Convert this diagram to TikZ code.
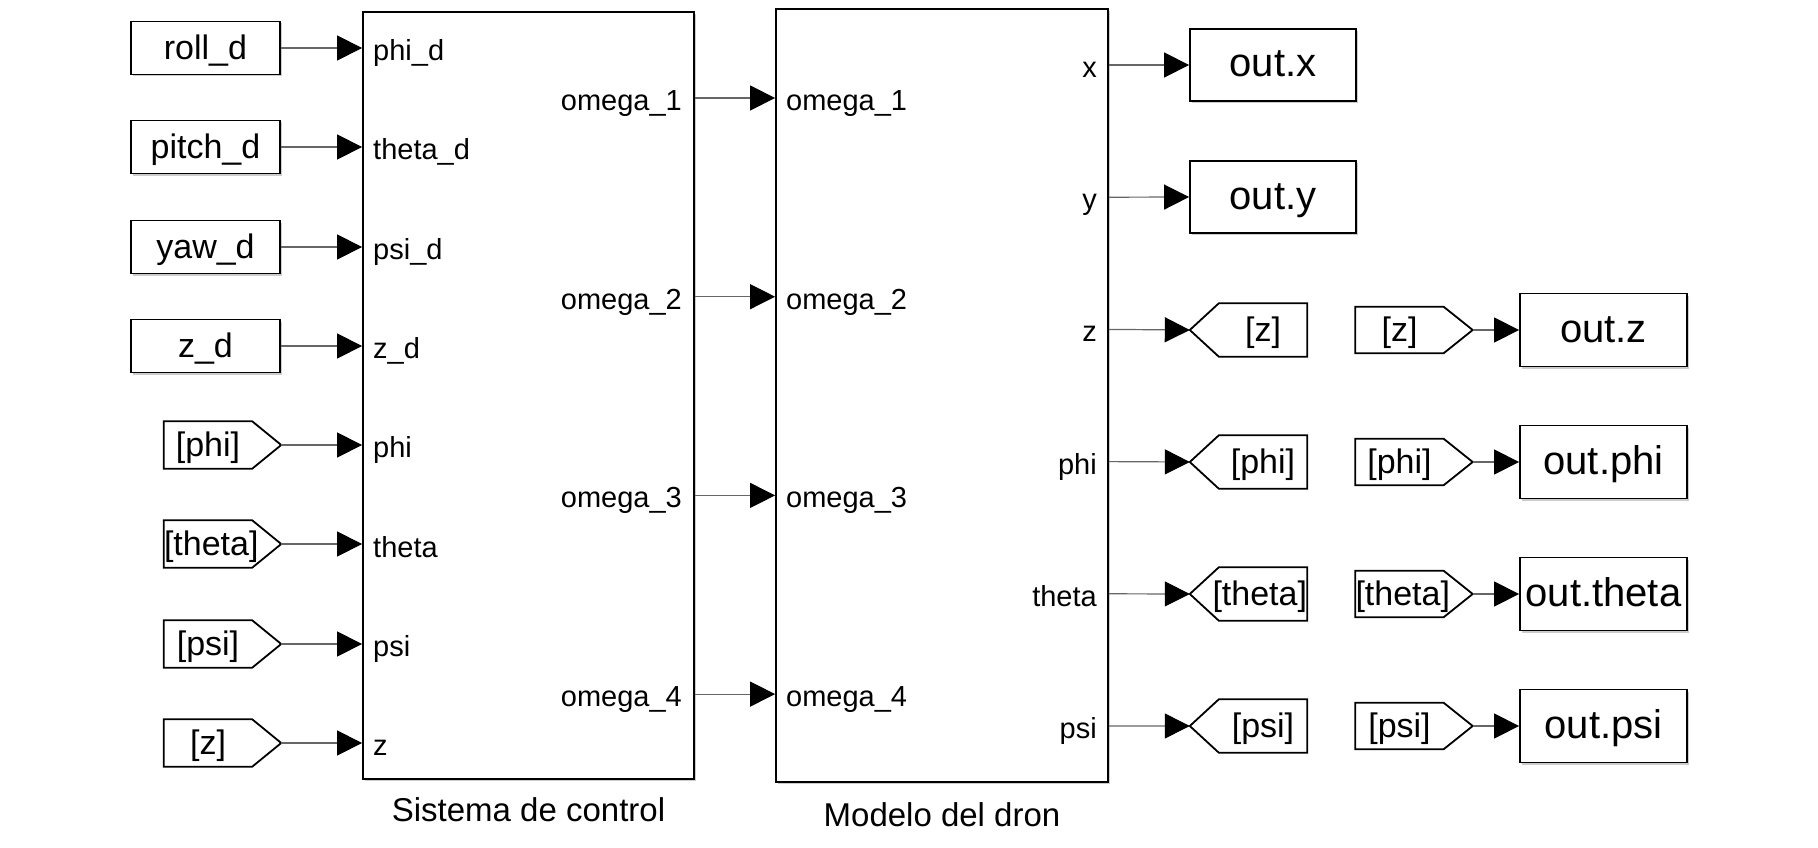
\documentclass[tikz,border=0pt]{standalone}
\usepackage{fontspec}
\setmainfont{Liberation Sans}
\usepackage{tikz}
\usetikzlibrary{
    arrows.meta,
    calc,
    shadows,
    positioning
}
\newcommand{\fromlbl}[1]{\hbox to 88pt{\hfil#1\hss}}
\newcommand{\gotolbl}[1]{\hbox to 88pt{\hss#1\hfil}}

\begin{document}
\begin{tikzpicture}[x=1pt, y=-1pt,
    blk/.style={draw, line width=1.8pt, fill=white, inner sep=0pt,
        drop shadow={shadow xshift=2pt, shadow yshift=-2pt, fill=black!40, opacity=.5}},
    srcblk/.style={blk, minimum width=149pt, minimum height=53pt, text height=25pt, text depth=2pt,
        font=\fontsize{34}{36}\selectfont},
    outblk/.style={blk, minimum width=167pt, minimum height=73pt, text height=26pt, text depth=2pt,
        font=\fontsize{40}{42}\selectfont},
    sysblk/.style={blk},
    tag/.style={inner sep=0pt, text height=24pt, text depth=2pt, font=\fontsize{34}{36}\selectfont},
    tagline/.style={line width=1.8pt, line join=miter},
    port/.style={inner sep=0pt, text height=27pt, text depth=2pt, font=\fontsize{29}{31}\selectfont},
    caption/.style={inner sep=0pt, font=\fontsize{33}{35}\selectfont},
    sig/.style={draw=black!60, line width=1.2pt,
        -{Triangle[length=25pt, width=25pt, color=black]}}
]
    \useasboundingbox (0,0) rectangle (1818,848);

    % subsystems
    \node[sysblk, minimum width=331pt, minimum height=767pt] (ctrl) at (528.5,395.5) {};
    \node[sysblk, minimum width=332pt, minimum height=773pt] (dron) at (942,395.5) {};
    \node[caption] at (528.5,810) {Sistema de control};
    \node[caption] at (942,815) {Modelo del dron};

    % references
    \node[srcblk] (roll) at (205.5,48) {roll\_d};
    \node[srcblk] (pitch) at (205.5,147) {pitch\_d};
    \node[srcblk] (yaw) at (205.5,247) {yaw\_d};
    \node[srcblk] (zd) at (205.5,346) {z\_d};

    % from tags, left
    \node[tag, minimum height=47pt] (fphi) at (208,445) {\fromlbl{[phi]}};
    \node[tag, minimum height=47pt] (ftheta) at (208,544) {\fromlbl{[theta]}};
    \node[tag, minimum height=47pt] (fpsi) at (208,644) {\fromlbl{[psi]}};
    \node[tag, minimum height=47pt] (fz) at (208,743) {\fromlbl{[z]}};

    % ports of the control system
    \foreach \lbl [count=\i] in {phi\_d, theta\_d, psi\_d, z\_d, phi, theta, psi, z}
        \node[port, anchor=west] (ci\i) at (373,{48+(\i-1)*99.3}) {\lbl};
    \foreach \i in {1,...,4} {
        \node[port, anchor=east] (co\i) at (682,{98+(\i-1)*198.7}) {omega\_\i};
        \node[port, anchor=west] (di\i) at (786,{98+(\i-1)*198.7}) {omega\_\i};
    }

    % ports of the drone model
    \foreach \lbl [count=\i] in {x, y, z, phi, theta, psi}
        \node[port, anchor=east] (do\i) at (1097,{65+(\i-1)*132.2}) {\lbl};

    % outputs
    \node[outblk, minimum width=166pt, minimum height=72pt] (outx) at (1273,65) {out.x};
    \node[outblk, minimum width=166pt, minimum height=72pt] (outy) at (1273,197) {out.y};

    \node[tag, minimum height=53pt] (gz) at (1263,330) {\gotolbl{[z]}};
    \node[tag, minimum height=53pt] (gphi) at (1263,462) {\gotolbl{[phi]}};
    \node[tag, minimum height=53pt] (gtheta) at (1263,594) {\gotolbl{[theta]}};
    \node[tag, minimum height=53pt] (gpsi) at (1263,726) {\gotolbl{[psi]}};

    \node[tag, minimum height=46pt] (rz) at (1399.5,330) {\fromlbl{[z]}};
    \node[tag, minimum height=46pt] (rphi) at (1399.5,462) {\fromlbl{[phi]}};
    \node[tag, minimum height=46pt] (rtheta) at (1399.5,594) {\fromlbl{[theta]}};
    \node[tag, minimum height=46pt] (rpsi) at (1399.5,726) {\fromlbl{[psi]}};

    \node[outblk] (outz) at (1603.5,330) {out.z};
    \node[outblk] (outphi) at (1603.5,462) {out.phi};
    \node[outblk] (outtheta) at (1603.5,594) {out.theta};
    \node[outblk] (outpsi) at (1603.5,726) {out.psi};

    % tag outlines
    \foreach \t in {fphi, ftheta, fpsi, fz, rz, rphi, rtheta, rpsi}
        \draw[tagline] (\t.north west) -- (\t.north east)
            -- ($(\t.east)+(29,0)$) coordinate (\t-tip)
            -- (\t.south east) -- (\t.south west) -- cycle;
    \foreach \t in {gz, gphi, gtheta, gpsi}
        \draw[tagline] (\t.north east) -- (\t.north west)
            -- ($(\t.west)+(-29,0)$) coordinate (\t-tip)
            -- (\t.south west) -- (\t.south east) -- cycle;

    % signals
    \foreach \s in {roll, pitch, yaw, zd}
        \draw[sig] (\s.east) -- (ctrl.west |- \s.east);
    \foreach \t in {fphi, ftheta, fpsi, fz}
        \draw[sig] (\t-tip) -- (ctrl.west |- \t-tip);
    \foreach \i in {1,...,4}
        \draw[sig] (ctrl.east |- co\i) -- (dron.west |- co\i);
    \draw[sig] (dron.east |- do1) -- (outx.west);
    \draw[sig] (dron.east |- do2) -- (outy.west);
    \draw[sig] (dron.east |- do3) -- (gz-tip);
    \draw[sig] (dron.east |- do4) -- (gphi-tip);
    \draw[sig] (dron.east |- do5) -- (gtheta-tip);
    \draw[sig] (dron.east |- do6) -- (gpsi-tip);
    \draw[sig] (rz-tip) -- (outz.west);
    \draw[sig] (rphi-tip) -- (outphi.west);
    \draw[sig] (rtheta-tip) -- (outtheta.west);
    \draw[sig] (rpsi-tip) -- (outpsi.west);
\end{tikzpicture}
\end{document}
